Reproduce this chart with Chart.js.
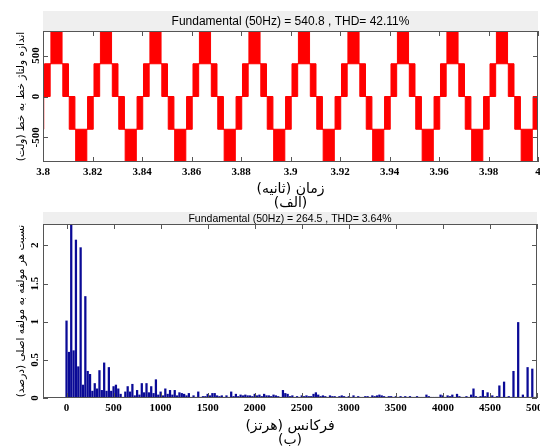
<!DOCTYPE html>
<html>
<head>
<meta charset="utf-8">
<script src="https://cdn.jsdelivr.net/npm/chart.js@4.4.1/dist/chart.umd.min.js"></script>
<style>
  html, body { margin: 0; padding: 0; background: #fff; overflow: hidden; }
  #wrap { position: relative; width: 540px; height: 448px; }
  #wave { position: absolute; left: 0; top: 0; }
  #spec { position: absolute; left: 0; top: 211px; }
</style>
</head>
<body>
<div id="wrap">
  <canvas id="wave" width="540" height="211"></canvas>
  <canvas id="spec" width="540" height="237"></canvas>
</div>
<script>
// --- شکل (الف): ولتاژ خط به خط ---
// پوش بالا و پایین باند کلیدزنی (زمان شروع هر پله، سطح ولتاژ)
const upperT = [
  3.8, 3.8006, 3.8032, 3.8077, 3.8103, 3.8129,
  3.8180, 3.8206, 3.8232, 3.8277, 3.8303, 3.8329,
  3.8380, 3.8406, 3.8432, 3.8477, 3.8503, 3.8529,
  3.8580, 3.8606, 3.8632, 3.8677, 3.8703, 3.8729,
  3.8780, 3.8806, 3.8832, 3.8877, 3.8903, 3.8929,
  3.8980, 3.9006, 3.9032, 3.9077, 3.9103, 3.9129,
  3.9180, 3.9206, 3.9232, 3.9277, 3.9303, 3.9329,
  3.9380, 3.9406, 3.9432, 3.9477, 3.9503, 3.9529,
  3.9580, 3.9606, 3.9632, 3.9677, 3.9703, 3.9729,
  3.9780, 3.9806, 3.9832, 3.9877, 3.9903, 3.9929,
  3.9980, 4.0
];
const upperV = [
  0, 400, 800, 400, 0, -400,
  0, 400, 800, 400, 0, -400,
  0, 400, 800, 400, 0, -400,
  0, 400, 800, 400, 0, -400,
  0, 400, 800, 400, 0, -400,
  0, 400, 800, 400, 0, -400,
  0, 400, 800, 400, 0, -400,
  0, 400, 800, 400, 0, -400,
  0, 400, 800, 400, 0, -400,
  0, 400, 800, 400, 0, -400,
  0, 0
];
const lowerT = [
  3.8, 3.8003, 3.8029, 3.8080, 3.8106, 3.8132,
  3.8177, 3.8203, 3.8229, 3.8280, 3.8306, 3.8332,
  3.8377, 3.8403, 3.8429, 3.8480, 3.8506, 3.8532,
  3.8577, 3.8603, 3.8629, 3.8680, 3.8706, 3.8732,
  3.8777, 3.8803, 3.8829, 3.8880, 3.8906, 3.8932,
  3.8977, 3.9003, 3.9029, 3.9080, 3.9106, 3.9132,
  3.9177, 3.9203, 3.9229, 3.9280, 3.9306, 3.9332,
  3.9377, 3.9403, 3.9429, 3.9480, 3.9506, 3.9532,
  3.9577, 3.9603, 3.9629, 3.9680, 3.9706, 3.9732,
  3.9777, 3.9803, 3.9829, 3.9880, 3.9906, 3.9932,
  3.9977, 4.0
];
const lowerV = [
  -400, 0, 400, 0, -400, -800,
  -400, 0, 400, 0, -400, -800,
  -400, 0, 400, 0, -400, -800,
  -400, 0, 400, 0, -400, -800,
  -400, 0, 400, 0, -400, -800,
  -400, 0, 400, 0, -400, -800,
  -400, 0, 400, 0, -400, -800,
  -400, 0, 400, 0, -400, -800,
  -400, 0, 400, 0, -400, -800,
  -400, 0, 400, 0, -400, -800,
  -400, -400
];
const timeTicks = [3.8, 3.82, 3.84, 3.86, 3.88, 3.9, 3.92, 3.94, 3.96, 3.98, 4.0];
const timeTickLabels = ['3.8', '3.82', '3.84', '3.86', '3.88', '3.9', '3.92', '3.94', '3.96', '3.98', '4'];
const voltTicks = [-500, 0, 500];
const voltTickLabels = ['-500', '0', '500'];

// --- شکل (ب): طیف هارمونیکی ---
const specHz = [
  0, 25, 50, 75, 100, 125, 150, 175, 200, 225, 250, 275, 300, 325, 350, 375, 400, 425, 450, 475,
  500, 525, 550, 575, 600, 625, 650, 675, 700, 725, 750, 775, 800, 825, 850, 875, 900, 925, 950, 975,
  1000, 1025, 1050, 1075, 1100, 1125, 1150, 1175, 1200, 1225, 1250, 1275, 1300, 1325, 1350, 1375, 1400, 1425, 1450, 1475,
  1500, 1525, 1550, 1575, 1600, 1625, 1650, 1675, 1700, 1725, 1750, 1775, 1800, 1825, 1850, 1875, 1900, 1925, 1950, 1975,
  2000, 2025, 2050, 2075, 2100, 2125, 2150, 2175, 2200, 2225, 2250, 2275, 2300, 2325, 2350, 2375, 2400, 2425, 2450, 2475,
  2500, 2525, 2550, 2575, 2600, 2625, 2650, 2675, 2700, 2725, 2750, 2775, 2800, 2825, 2850, 2875, 2900, 2925, 2950, 2975,
  3000, 3025, 3050, 3075, 3100, 3125, 3150, 3175, 3200, 3225, 3250, 3275, 3300, 3325, 3350, 3375, 3400, 3425, 3450, 3475,
  3500, 3525, 3550, 3575, 3600, 3625, 3650, 3675, 3700, 3725, 3750, 3775, 3800, 3825, 3850, 3875, 3900, 3925, 3950, 3975,
  4000, 4025, 4050, 4075, 4100, 4125, 4150, 4175, 4200, 4225, 4250, 4275, 4300, 4325, 4350, 4375, 4400, 4425, 4450, 4475,
  4500, 4525, 4550, 4575, 4600, 4625, 4650, 4675, 4700, 4725, 4750, 4775, 4800, 4825, 4850, 4875, 4900, 4925, 4950, 4975
];
const specPct = [
  1.01, 0.60, 100, 0.62, 2.07, 0.41, 1.97, 0.17, 1.33, 0.35, 0.31, 0.09, 0.19, 0.12, 0.36, 0.10, 0.46, 0.09, 0.40, 0.09,
  0.15, 0.17, 0.12, 0.05, 0.01, 0.08, 0.15, 0.08, 0.18, 0.03, 0.10, 0.04, 0.19, 0.07, 0.19, 0.07, 0.15, 0.06, 0.24, 0.04,
  0.08, 0.03, 0.12, 0.05, 0.10, 0.04, 0.10, 0.03, 0.07, 0.06, 0.05, 0.03, 0.06, 0.01, 0.03, 0.01, 0.08, 0.01, 0.02, 0.02,
  0.05, 0.03, 0.06, 0.06, 0.03, 0.02, 0.03, 0.01, 0.03, 0.01, 0.08, 0.02, 0.05, 0.02, 0.04, 0.03, 0.04, 0.03, 0.03, 0.02,
  0.05, 0.03, 0.04, 0.02, 0.05, 0.03, 0.03, 0.02, 0.04, 0.03, 0.02, 0.01, 0.10, 0.06, 0.05, 0.02, 0.03, 0.01, 0.02, 0.01,
  0.03, 0.02, 0.03, 0.02, 0.02, 0.05, 0.07, 0.04, 0.02, 0.03, 0.02, 0.01, 0.03, 0.02, 0.02, 0.01, 0.02, 0.03, 0.02, 0.01,
  0.02, 0.01, 0.03, 0.01, 0.02, 0.01, 0.01, 0.02, 0.02, 0.01, 0.03, 0.02, 0.03, 0.04, 0.03, 0.02, 0.01, 0.02, 0.02, 0.01,
  0.02, 0.01, 0.02, 0.01, 0.02, 0.01, 0.02, 0.01, 0.01, 0.02, 0.01, 0.01, 0.01, 0.04, 0.02, 0.01, 0.01, 0.01, 0.01, 0.04,
  0.03, 0.01, 0.03, 0.02, 0.04, 0.01, 0.05, 0.02, 0.01, 0.01, 0.02, 0.01, 0.04, 0.12, 0.02, 0.01, 0.02, 0.10, 0.02, 0.07,
  0.01, 0.03, 0.01, 0.02, 0.16, 0.01, 0.21, 0.01, 0.02, 0.01, 0.35, 0.01, 0.99, 0.01, 0.04, 0.01, 0.40, 0.01, 0.38, 0.01
];
const freqTicks = [0, 500, 1000, 1500, 2000, 2500, 3000, 3500, 4000, 4500, 5000];
const pctTicks = [0, 0.5, 1, 1.5, 2];
const pctTickLabels = ['0', '0.5', '1', '1.5', '2'];

const tickFont = { family: '"Liberation Serif", serif', size: 11, weight: 'bold' };
const faFont = { family: '"DejaVu Sans"', size: 14, lineHeight: 1.05 };
const faFontSmall = { family: '"DejaVu Sans"', size: 10.5 };

// نوار عنوان خاکستری، کادر دور نمودار و تیک‌های رو به داخل (سبک متلب)
const matlabFrame = {
  id: 'matlabFrame',
  beforeDraw(chart, args, opts) {
    const { ctx, chartArea: a } = chart;
    ctx.save();
    ctx.fillStyle = '#efefef';
    ctx.fillRect(a.left, a.top - opts.barHeight, a.right - a.left, opts.barHeight);
    ctx.fillStyle = '#000';
    ctx.font = opts.font;
    ctx.textAlign = 'center';
    ctx.textBaseline = 'middle';
    ctx.fillText(opts.text, (a.left + a.right) / 2, a.top - opts.barHeight / 2 + 1);
    ctx.restore();
  },
  afterDraw(chart, args, opts) {
    const { ctx, chartArea: a, scales } = chart;
    const len = opts.tickLen || 5;
    ctx.save();
    ctx.strokeStyle = '#555';
    ctx.lineWidth = 1;
    ctx.beginPath();
    scales.x.ticks.forEach(t => {
      const px = Math.round(scales.x.getPixelForValue(t.value)) + 0.5;
      ctx.moveTo(px, a.top); ctx.lineTo(px, a.top + len);
      ctx.moveTo(px, a.bottom); ctx.lineTo(px, a.bottom - len);
    });
    scales.y.ticks.forEach(t => {
      const py = Math.round(scales.y.getPixelForValue(t.value)) + 0.5;
      ctx.moveTo(a.left, py); ctx.lineTo(a.left + len, py);
      ctx.moveTo(a.right, py); ctx.lineTo(a.right - len, py);
    });
    ctx.stroke();
    ctx.strokeRect(Math.round(a.left) + 0.5, Math.round(a.top) + 0.5,
      Math.round(a.right - a.left) - 1, Math.round(a.bottom - a.top) - 1);
    ctx.restore();
  }
};

function toPoints(ts, vs) {
  return ts.map((t, i) => ({ x: t, y: vs[i] }));
}

new Chart(document.getElementById('wave'), {
  type: 'line',
  data: {
    datasets: [
      {
        data: toPoints(upperT, upperV),
        borderColor: '#ff0000', borderWidth: 1, pointRadius: 0,
        stepped: 'before', fill: false
      },
      {
        data: toPoints(lowerT, lowerV),
        borderColor: '#ff0000', borderWidth: 1, pointRadius: 0,
        stepped: 'before', fill: '-1', backgroundColor: '#ff0000'
      }
    ]
  },
  options: {
    responsive: false,
    animation: false,
    events: [],
    layout: { padding: { top: 31, right: 2, left: 0, bottom: 0 } },
    plugins: {
      legend: { display: false },
      tooltip: { enabled: false },
      matlabFrame: {
        barHeight: 20,
        font: '12px "Liberation Sans", Arial, sans-serif',
        text: 'Fundamental (50Hz) = 540.8 , THD= 42.11%'
      }
    },
    scales: {
      x: {
        type: 'linear', min: 3.8, max: 4.0,
        grid: { display: false, drawTicks: false },
        border: { display: false },
        afterBuildTicks: s => { s.ticks = timeTicks.map(v => ({ value: v })); },
        afterFit: s => { s.height = 49; s.paddingLeft = 0; s.paddingRight = 0; },
        ticks: {
          callback: (v, i) => timeTickLabels[i],
          font: tickFont, color: '#000', padding: 4,
          maxRotation: 0, autoSkip: false
        },
        title: {
          display: true, text: ['زمان (ثانیه)', '(الف)'],
          font: faFont, color: '#000', padding: { top: 0, bottom: 0 }
        }
      },
      y: {
        min: -800, max: 800,
        grid: { display: false, drawTicks: false },
        border: { display: false },
        afterBuildTicks: s => { s.ticks = voltTicks.map(v => ({ value: v })); },
        afterFit: s => { s.width = 43; s.paddingTop = 0; s.paddingBottom = 0; },
        ticks: {
          callback: (v, i) => voltTickLabels[i],
          font: tickFont, color: '#000',
          minRotation: 90, maxRotation: 90, crossAlign: 'center', padding: -3
        },
        title: {
          display: true, text: 'اندازه ولتاژ خط به خط (ولت)',
          font: faFontSmall, color: '#000', padding: { top: 15, bottom: 0 }
        }
      }
    }
  },
  plugins: [matlabFrame]
});

new Chart(document.getElementById('spec'), {
  type: 'bar',
  data: {
    datasets: [{
      data: specHz.map((f, i) => ({ x: f, y: specPct[i] })),
      backgroundColor: '#0a0a96',
      barThickness: 1.6,
      grouped: false
    }]
  },
  options: {
    responsive: false,
    animation: false,
    events: [],
    layout: { padding: { top: 13, right: 3, left: 0, bottom: 0 } },
    plugins: {
      legend: { display: false },
      tooltip: { enabled: false },
      matlabFrame: {
        barHeight: 12,
        font: '10.5px "Liberation Sans", Arial, sans-serif',
        text: 'Fundamental (50Hz) = 264.5 , THD= 3.64%'
      }
    },
    scales: {
      x: {
        type: 'linear', min: -250, max: 5000, offset: false,
        grid: { display: false, drawTicks: false },
        border: { display: false },
        afterBuildTicks: s => { s.ticks = freqTicks.map(v => ({ value: v })); },
        afterFit: s => { s.height = 50; s.paddingLeft = 0; s.paddingRight = 0; },
        ticks: {
          callback: v => String(v),
          font: tickFont, color: '#000', padding: 4,
          maxRotation: 0, autoSkip: false
        },
        title: {
          display: true, text: ['فرکانس (هرتز)', '(ب)'],
          font: faFont, color: '#000', padding: { top: 0, bottom: 0 }
        }
      },
      y: {
        min: 0, max: 2.28,
        grid: { display: false, drawTicks: false },
        border: { display: false },
        afterBuildTicks: s => { s.ticks = pctTicks.map(v => ({ value: v })); },
        afterFit: s => { s.width = 43; s.paddingTop = 0; s.paddingBottom = 0; },
        ticks: {
          callback: (v, i) => pctTickLabels[i],
          font: tickFont, color: '#000',
          minRotation: 90, maxRotation: 90, crossAlign: 'center', padding: 1
        },
        title: {
          display: true, text: 'نسبت هر مولفه به مولفه اصلی (درصد)',
          font: faFontSmall, color: '#000', padding: { top: 15, bottom: 0 }
        }
      }
    }
  },
  plugins: [matlabFrame]
});
</script>
</body>
</html>
